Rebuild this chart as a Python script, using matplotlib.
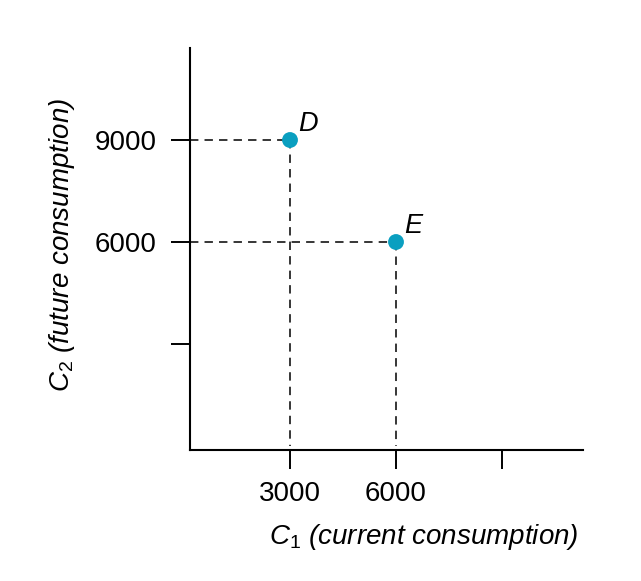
import matplotlib
matplotlib.use("Agg")
import matplotlib.pyplot as plt

# Data
point_names = ["D", "E"]
c1_values = [3000, 6000]
c2_values = [9000, 6000]
x_ticks = [3000, 6000, 9000]
x_tick_labels = ["3000", "6000", ""]
y_ticks = [3000, 6000, 9000]
y_tick_labels = ["", "6000", "9000"]

plt.rcParams['font.family'] = ['Liberation Sans', 'DejaVu Sans']
plt.rcParams['mathtext.fontset'] = 'custom'
plt.rcParams['mathtext.rm'] = 'Liberation Sans'
plt.rcParams['mathtext.it'] = 'Liberation Sans:italic'

fig = plt.figure(figsize=(6.41, 5.81), dpi=100)
ax = fig.add_axes([190/641, (581-450)/581, (583-190)/641, (450-48)/581])

xmin, xmax = 170, 11292
ymin, ymax = -118, 11706
ax.set_xlim(xmin, xmax)
ax.set_ylim(ymin, ymax)

point_color = "#0a9fc0"
for name, x, y in zip(point_names, c1_values, c2_values):
    ax.plot([xmin, x], [y, y], color="black", lw=1.1, dashes=(5.5, 4), zorder=2)
    ax.plot([x, x], [y, 0], color="black", lw=1.1, dashes=(5.5, 4), zorder=2)

ax.scatter(c1_values, c2_values, s=130, color=point_color, zorder=3, edgecolors='none')
for name, x, y in zip(point_names, c1_values, c2_values):
    ax.annotate(name, (x, y), xytext=(6, 2), textcoords="offset points",
                fontsize=19.5, style="italic", ha="left", va="bottom")

for s in ["top", "right"]:
    ax.spines[s].set_visible(False)
for s in ["left", "bottom"]:
    ax.spines[s].set_linewidth(1.5)

ax.set_xticks(x_ticks)
ax.set_xticklabels(x_tick_labels)
ax.set_yticks(y_ticks)
ax.set_yticklabels(y_tick_labels)
ax.tick_params(axis="x", direction="out", length=14, width=1.4, pad=8, labelsize=20)
ax.tick_params(axis="y", direction="out", length=14, width=1.4, pad=10, labelsize=20)

fig.text(424/641, 1 - 537/581, r"$C_1$ (current consumption)", fontsize=20,
         style="italic", ha="center", va="center")
fig.text(62/641, 1 - 245/581, r"$C_2$ (future consumption)", fontsize=20,
         style="italic", ha="center", va="center", rotation=90)

fig.savefig("out.png", dpi=100)
